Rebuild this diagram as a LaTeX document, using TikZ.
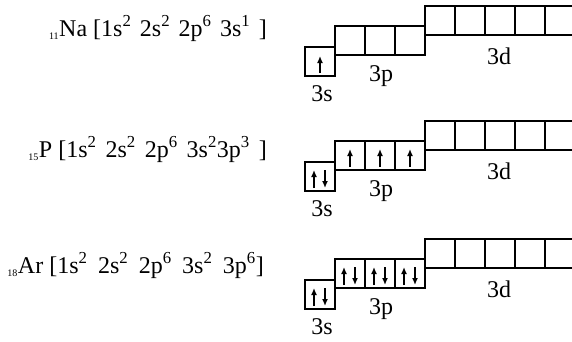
\documentclass[tikz,border=0pt]{standalone}
\usepackage{fontspec}
\setmainfont{Liberation Serif}
\usetikzlibrary{arrows.meta}
\newlength\gapw
\newcommand\gap{\hspace{\gapw}}
\newcommand\zsub[1]{\textsubscript{\fontsize{10}{10}\selectfont #1}}
\begin{document}
\begin{tikzpicture}[x=1pt,y=-1pt,
  orb/.style={draw,line width=1.6pt},
  el/.style={line width=1.8pt,-{Latex[length=7pt,width=6pt]}},
  cfg/.style={anchor=base east,inner sep=0pt,font=\fontsize{24}{28}\selectfont},
  lbl/.style={anchor=base,inner sep=0pt,font=\fontsize{24}{24}\selectfont}]
\clip (0,0) rectangle (572,341);
\fill[white] (0,0) rectangle (572,341);

% electron configurations
\node[cfg] (na) at (267,36)  {\setlength\gapw{8.5pt}\zsub{11}Na [1s\textsuperscript{2}\gap 2s\textsuperscript{2}\gap 2p\textsuperscript{6}\gap 3s\textsuperscript{1}\gap]};
\node[cfg] (p)  at (267,157) {\setlength\gapw{9pt}\zsub{15}P [1s\textsuperscript{2}\gap 2s\textsuperscript{2}\gap 2p\textsuperscript{6}\gap 3s\textsuperscript{2}3p\textsuperscript{3}\gap]};
\node[cfg] (ar) at (264,273) {\setlength\gapw{10.5pt}\zsub{18}Ar [1s\textsuperscript{2}\gap 2s\textsuperscript{2}\gap 2p\textsuperscript{6}\gap 3s\textsuperscript{2}\gap 3p\textsuperscript{6}]};

% orbital boxes: 3s, 3p (three), 3d (five), each level raised a step
\foreach \b/\r in {47/1,162/2,280/3}{
  \draw[orb] (305,\b) rectangle +(30,29);
  \foreach \i in {0,1,2} \draw[orb] (335+30*\i,\b-21) rectangle +(30,29);
  \foreach \i in {0,...,4} \draw[orb] (425+30*\i,\b-41) rectangle +(30,29);
  \node[lbl] (s\r) at (322,\b+54) {3s};
  \node[lbl] (p\r) at (381,\b+34) {3p};
  \node[lbl] (d\r) at (499,\b+17) {3d};
}

% Na: 3s^1
\draw[el] (320,47+26) -- (320,47+9);
% P: 3s^2 3p^3
\draw[el] (314,162+26) -- (314,162+8);
\draw[el] (325,162+8) -- (325,162+26);
\foreach \i in {0,1,2}
  \draw[el] (350+30*\i,141+26) -- (350+30*\i,141+8);
% Ar: 3s^2 3p^6
\draw[el] (314,280+26) -- (314,280+8);
\draw[el] (325,280+8) -- (325,280+26);
\foreach \i in {0,1,2}{
  \draw[el] (344+30*\i,259+26) -- (344+30*\i,259+8);
  \draw[el] (355+30*\i,259+8) -- (355+30*\i,259+26);
}
\end{tikzpicture}
\end{document}
